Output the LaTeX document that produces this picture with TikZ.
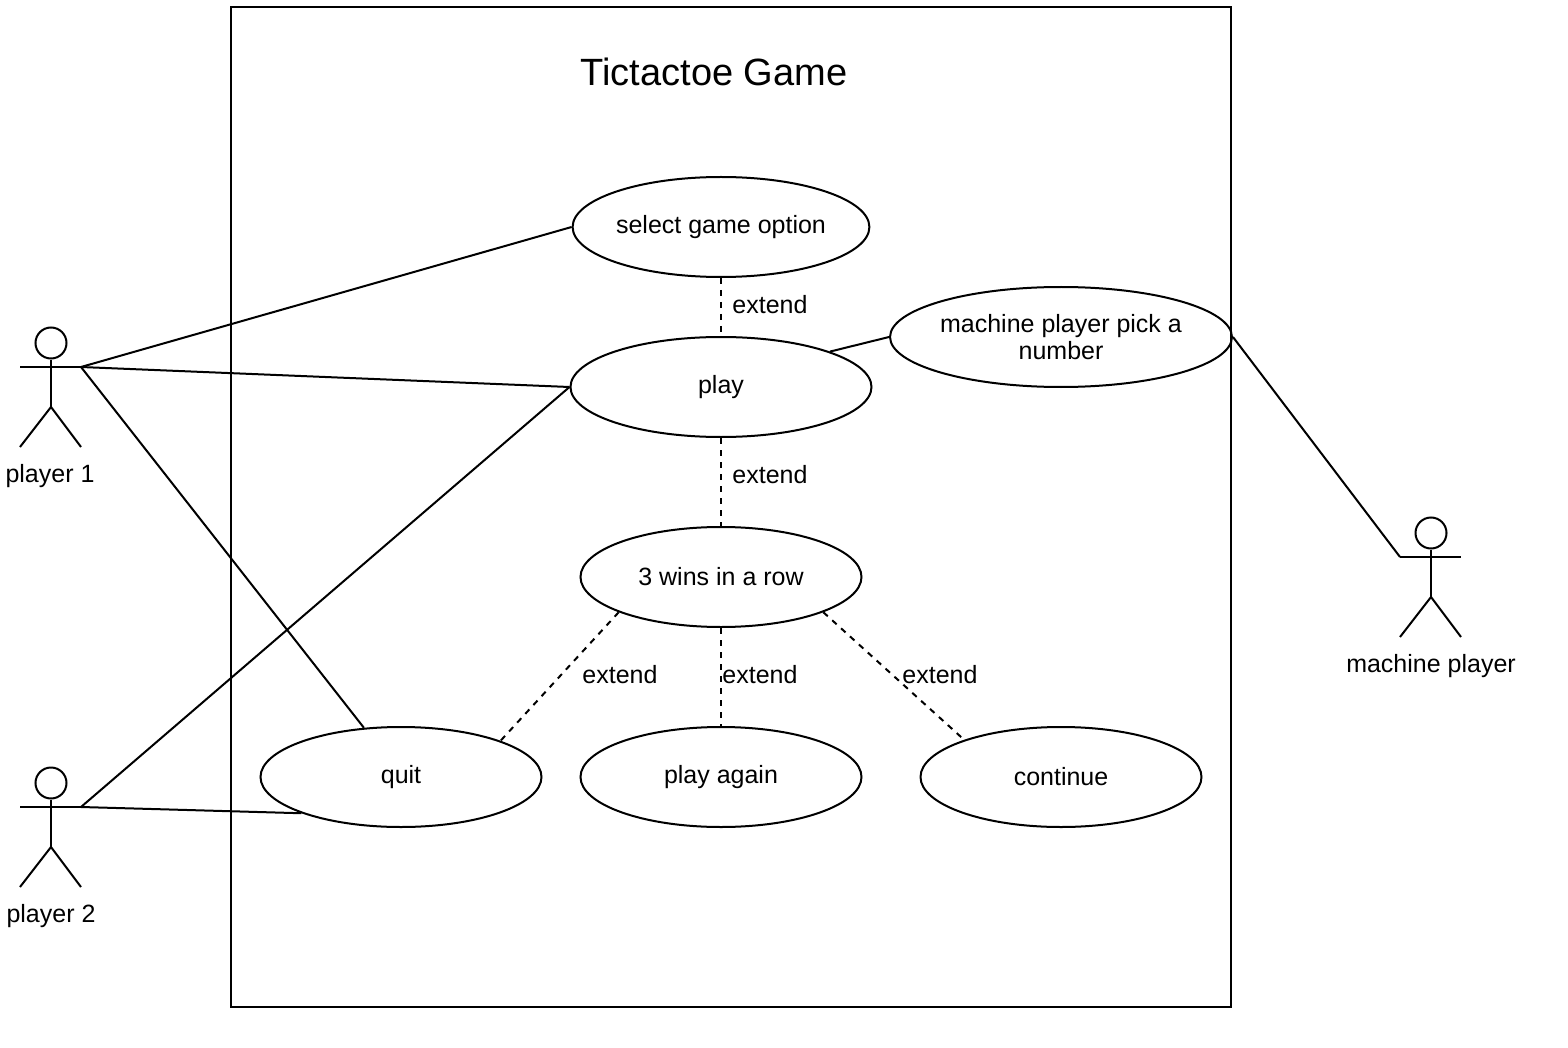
\documentclass[tikz,border=0pt]{standalone}
\usepackage{fontspec}
\setmainfont{Liberation Sans}
\usetikzlibrary{shapes.geometric}
\tikzset{
  x=1pt,y=-1pt,
  every path/.style={line width=2pt,black},
  usecase/.style={draw,ellipse,minimum width=281pt,minimum height=100pt,inner sep=0pt,align=center,font=\fontsize{25}{27}\selectfont},
  widecase/.style={usecase,minimum width=301pt},
  lbl/.style={inner sep=0pt,align=center,font=\fontsize{25}{27}\selectfont},
  assoc/.style={draw},
  ext/.style={draw,dash pattern=on 6pt off 6pt}
}
\newcommand{\stickman}[3]{%
  \node[draw,circle,minimum size=31pt,inner sep=0pt,line width=2pt] (#3head) at (#1,#2) {};
  \coordinate (#3neck) at (#1,#2+16);
  \coordinate (#3hip) at (#1,#2+64);
  \coordinate (#3armL) at (#1-31,#2+24);
  \coordinate (#3armR) at (#1+30,#2+24);
  \draw (#3head.south) -- (#3hip);
  \draw (#3armL) -- (#3armR);
  \draw (#3hip) -- (#1-31,#2+104);
  \draw (#3hip) -- (#1+30,#2+104);
}
\begin{document}
\begin{tikzpicture}
\useasboundingbox (0,0) rectangle (1568,1048);
\node[draw,minimum width=1000pt,minimum height=1000pt,inner sep=0pt] (sys) at (731,507) {};
\node[lbl,font=\fontsize{38}{40}\selectfont] (title) at (714,72) {Tictactoe Game};
\node[usecase] (select) at (721,227) {select game option};
\node[widecase] (play) at (721,387) {play};
\node[usecase] (pick) at (1061,337) {machine player pick a\\number};
\node[usecase] (wins) at (721,577) {3 wins in a row};
\node[usecase] (quit) at (401,777) {quit};
\node[usecase] (again) at (721,777) {play again};
\node[usecase] (cont) at (1061,777) {continue};
\stickman{51}{343}{pa}
\stickman{51}{783}{pb}
\stickman{1431}{533}{pm}
\node[lbl] (pal) at (50,476) {player 1};
\node[lbl] (pbl) at (51,916) {player 2};
\node[lbl] (pml) at (1431,666) {machine player};
\draw[assoc] (paarmR) -- (select.west);
\draw[assoc] (paarmR) -- (play.west);
\draw[assoc] (paarmR) -- (quit.127);
\draw[assoc] (pbarmR) -- (play.west);
\draw[assoc] (pbarmR) -- (quit.200.6);
\draw[assoc] (play.18.9) -- (pick.west);
\draw[assoc] (pick.east) -- (pmarmL);
\draw[ext] (select.south) -- (play.north);
\draw[ext] (play.south) -- (wins.north);
\draw[ext] (wins.199.5) -- (quit.20.5);
\draw[ext] (wins.south) -- (again.north);
\draw[ext] (wins.-19.5) -- (cont.159.9);
\node[lbl] (e1) at (770,305) {extend};
\node[lbl] (e2) at (770,475) {extend};
\node[lbl] (e3) at (620,675) {extend};
\node[lbl] (e4) at (760,675) {extend};
\node[lbl] (e5) at (940,675) {extend};
\end{tikzpicture}
\end{document}
